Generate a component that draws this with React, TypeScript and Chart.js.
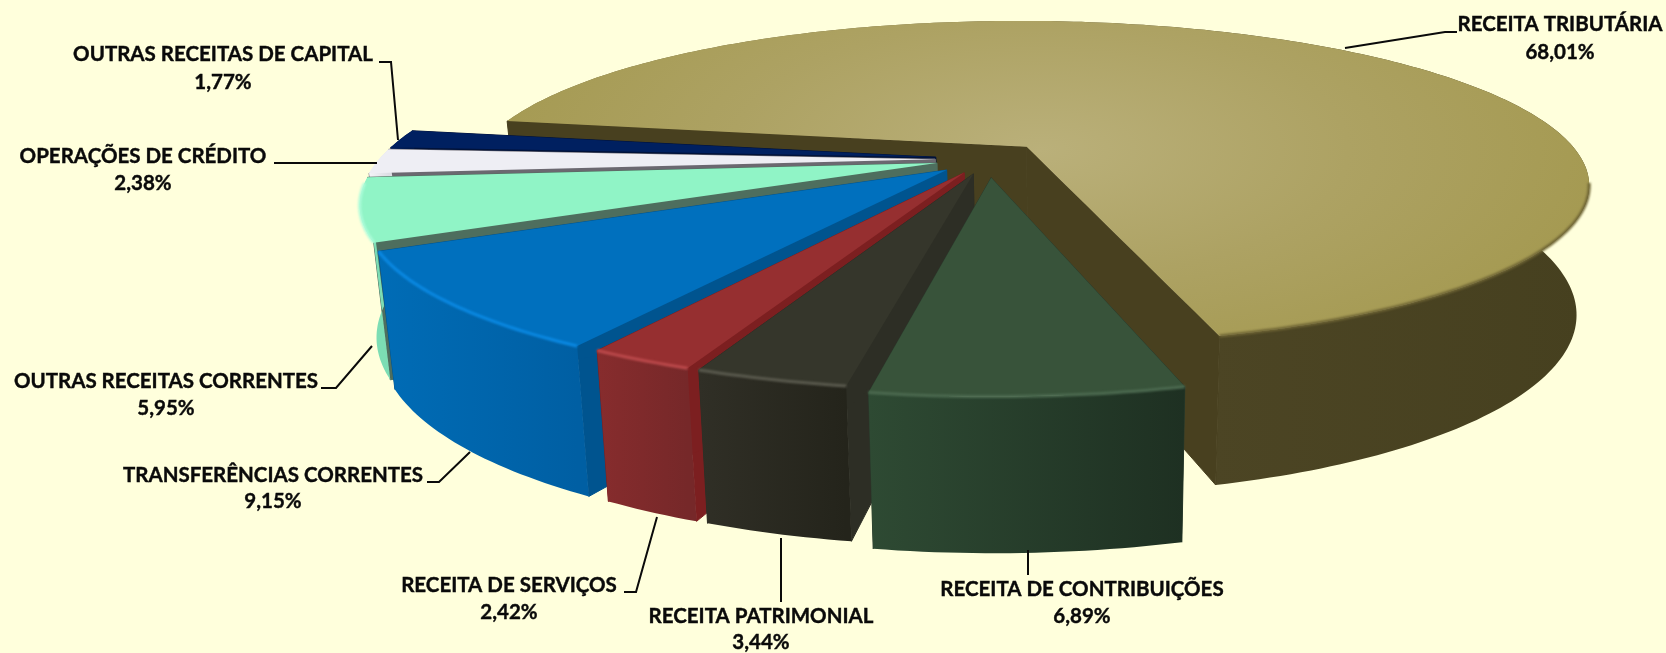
import React, { useEffect, useRef } from "react";
import { Chart, registerables } from "chart.js";

Chart.register(...registerables);

const categories = [
  "RECEITA TRIBUTÁRIA",
  "RECEITA DE CONTRIBUIÇÕES",
  "RECEITA PATRIMONIAL",
  "RECEITA DE SERVIÇOS",
  "TRANSFERÊNCIAS CORRENTES",
  "OUTRAS RECEITAS CORRENTES",
  "OPERAÇÕES DE CRÉDITO",
  "OUTRAS RECEITAS DE CAPITAL",
];
const values = [68.01, 6.89, 3.44, 2.42, 9.15, 5.95, 2.38, 1.77];
const valueLabels = ["68,01%", "6,89%", "3,44%", "2,42%", "9,15%", "5,95%", "2,38%", "1,77%"];

const explode = [10.5, 11.5, 9.5, 9.5, 10, 9.5, 9.5, 9.5];
const topColors = ["#A89D58", "#38533A", "#35362B", "#962F30", "#0070BE", "#90F4C6", "#EEEEF4", "#002060"];
const wallColors = ["#48401F", "#2A3B2C", "#2D2E25", "#7C1F20", "#00548F", "#4E6E5E", "#6B6870", "#00123A"];
const sideLight = ["#756B3D", "#2E4A33", "#302F26", "#872C2D", "#006CB6", "#9CF5CC", "#F4F4F8", "#002060"];
const sideDark = ["#46401F", "#1E3022", "#24241B", "#762829", "#005FA3", "#7CDDB4", "#DDDDE4", "#001848"];
const rimColors = ["#6E6434", "#4C6A50", "#5A5A4E", "#BC4A4C", "#0A8AE4", "#AEFCDA", "#FFFFFF", "#0A2C70"];
const labelCenters = [
  [1560, 24, 52], [1082, 589, 616], [761, 616, 642], [509, 585, 612],
  [273, 475, 501], [166, 381, 408], [143, 156, 183], [223, 54, 82],
];
const leaders = [
  [[1457, 32], [1445, 32], [1345, 48]],
  [[1028, 550], [1028, 575]],
  [[781, 538], [781, 602]],
  [[624, 592], [636, 592], [657, 517]],
  [[427, 482], [439, 482], [470, 452]],
  [[321, 388], [336, 388], [372, 346]],
  [[274, 163], [377, 163]],
  [[379, 62], [391, 62], [398, 140]],
];

const CX = 988, CY = 159, A = 556, B = 159.4, P = 0.226, H = 126, XVP = 1062, S = 0.976;
const project = (u: number, v: number) => {
  const w = 1 - P * v;
  return { x: CX + (A * u) / w, y: CY + (B * v) / w, w };
};
const lower = (p: { x: number; y: number; w: number }) => ({
  x: XVP + (p.x - XVP) * S,
  y: p.y + H / Math.pow(p.w, 0.75),
  w: p.w,
});
type Pt = { x: number; y: number; w: number };
const poly = (ctx: CanvasRenderingContext2D, pts: Pt[]) => {
  ctx.beginPath();
  pts.forEach((p, i) => (i ? ctx.lineTo(p.x, p.y) : ctx.moveTo(p.x, p.y)));
};

const pie3d = {
  id: "pie3d",
  beforeDatasetDraw(chart: any) {
    const ctx: CanvasRenderingContext2D = chart.ctx;
    const arcs = chart.getDatasetMeta(0).data;
    const order = [0, 7, 6, 5, 4, 3, 2, 1];
    ctx.save();
    ctx.lineJoin = "round";
    for (const i of order) {
      const arc = arcs[i];
      const { startAngle, endAngle } = arc;
      const mid = (startAngle + endAngle) / 2;
      const d = (arc.options.offset || 0) / 100;
      const ou = d * Math.cos(mid), ov = d * Math.sin(mid);
      const apex = project(ou, ov);
      const apexB = lower(apex);
      const rim: Pt[] = [];
      const n = Math.max(4, Math.ceil(((endAngle - startAngle) * 180) / Math.PI));
      for (let k = 0; k <= n; k++) {
        const t = startAngle + ((endAngle - startAngle) * k) / n;
        rim.push(project(ou + Math.cos(t), ov + Math.sin(t)));
      }
      const rimB = rim.map(lower);
      const first = rim[0], last = rim[rim.length - 1];

      const drawWalls = () => {
        ctx.fillStyle = wallColors[i];
        ctx.strokeStyle = wallColors[i];
        ctx.lineWidth = 1;
        for (const [a, b] of [[first, rimB[0]], [last, rimB[rimB.length - 1]]] as [Pt, Pt][]) {
          poly(ctx, [apex, a, b, apexB]);
          ctx.closePath();
          ctx.fill();
          ctx.stroke();
        }
      };
      const drawSide = () => {
        const xs = rim.map((p) => p.x);
        const lo = Math.min(...xs), hi = Math.max(...xs);
        const sg = ctx.createLinearGradient(lo, 0, hi, 0);
        sg.addColorStop(0, sideLight[i]);
        if (i === 0) sg.addColorStop(0.4, "#756B3D");
        if (i === 0) sg.addColorStop(0.65, "#4C4524");
        sg.addColorStop(1, sideDark[i]);
        ctx.fillStyle = sg;
        poly(ctx, [...rim, ...[...rimB].reverse()]);
        ctx.closePath();
        ctx.fill();
      };
      if (i === 0) {
        drawSide();
        drawWalls();
      } else {
        drawWalls();
        drawSide();
      }

      // top face
      poly(ctx, [apex, ...rim]);
      ctx.closePath();
      if (i === 0) {
        ctx.save();
        ctx.translate(1040, 150);
        ctx.scale(1, 0.42);
        const rg = ctx.createRadialGradient(0, 0, 0, 0, 0, 560);
        rg.addColorStop(0, "#BAB07A");
        rg.addColorStop(0.55, "#ADA263");
        rg.addColorStop(1, "#A59A52");
        ctx.fillStyle = rg;
        ctx.fill();
        ctx.restore();
      } else {
        ctx.fillStyle = topColors[i];
        ctx.fill();
      }

      // soft bevel along the part of the rim that faces the viewer
      const front = rim.filter((p) => p.w < 0.97);
      if (front.length > 1) {
        ctx.save();
        ctx.filter = "blur(1.2px)";
        ctx.strokeStyle = rimColors[i];
        ctx.lineWidth = 3;
        poly(ctx, front);
        ctx.stroke();
        ctx.restore();
      }
    }
    ctx.restore();
    return false;
  },
  afterDraw(chart: any) {
    const ctx: CanvasRenderingContext2D = chart.ctx;
    ctx.save();
    ctx.strokeStyle = "#0A0A0A";
    ctx.lineWidth = 2;
    leaders.forEach((l) => {
      ctx.beginPath();
      l.forEach(([x, y], i) => (i ? ctx.lineTo(x, y) : ctx.moveTo(x, y)));
      ctx.stroke();
    });
    ctx.fillStyle = "#0A0A0A";
    ctx.textAlign = "center";
    ctx.textBaseline = "middle";
    ctx.font = "700 20.5px Lato";
    ctx.lineWidth = 0.4;
    categories.forEach((c, i) => {
      const [x, y1, y2] = labelCenters[i];
      ctx.fillText(c, x, y1);
      ctx.strokeText(c, x, y1);
      ctx.fillText(valueLabels[i], x, y2);
      ctx.strokeText(valueLabels[i], x, y2);
    });
    ctx.restore();
  },
};

export default function App() {
  const ref = useRef<HTMLCanvasElement>(null);
  useEffect(() => {
    const chart = new Chart(ref.current!, {
      type: "pie",
      data: {
        labels: categories,
        datasets: [{ data: values, backgroundColor: topColors, offset: explode, borderWidth: 0 }],
      },
      options: {
        animation: false,
        responsive: false,
        rotation: -80,
        plugins: { legend: { display: false }, tooltip: { enabled: false } },
      },
      plugins: [pie3d],
    } as any);
    return () => chart.destroy();
  }, []);
  return (
    <div style={{ position: "fixed", inset: 0, background: "#FFFFDC" }}>
      <canvas ref={ref} width={1666} height={653} style={{ display: "block" }} />
    </div>
  );
}
